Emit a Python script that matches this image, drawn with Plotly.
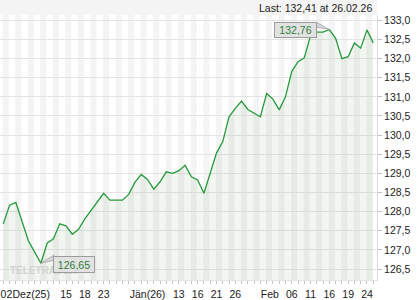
import plotly.graph_objects as go

# ---- data (one value per trading day, Dec 2025 - Feb 2026) ----
close = [127.68, 128.17, 128.24, 127.75, 127.24, 126.94, 126.65, 127.18, 127.29, 127.68,
         127.63, 127.41, 127.54, 127.81, 128.04, 128.24, 128.48, 128.30, 128.30, 128.30,
         128.45, 128.77, 128.97, 128.84, 128.59, 128.78, 129.04, 129.00, 129.07, 129.21,
         128.91, 128.83, 128.48, 129.00, 129.53, 129.83, 130.48, 130.70, 130.89, 130.67,
         130.57, 130.48, 131.09, 130.94, 130.66, 131.00, 131.66, 131.92, 132.02, 132.60,
         132.69, 132.69, 132.76, 132.53, 132.00, 132.05, 132.41, 132.27, 132.75, 132.41]
days = list(range(len(close)))

label_pos = [0.5, 4.45, 10, 13, 16, 23, 28, 31, 34, 37, 42.5, 46, 49, 52, 55, 58]
label_txt = ["02", "Dez(25)", "15", "18", "23", "Jän(26)", "13", "16", "21", "26",
             "Feb", "06", "11", "16", "19", "24"]
y_ticks = [126.5, 127.0, 127.5, 128.0, 128.5, 129.0, 129.5, 130.0, 130.5, 131.0,
           131.5, 132.0, 132.5, 133.0]
last_text = "Last: 132,41 at 26.02.26"
watermark = "TELETRADER"

W, H = 420, 300
PX = 377          # right edge of plot area in px
TOP, BOT = 15, 280
XR = [-0.527, 59.6]
YR = [126.213, 133.139]
FONT = "Liberation Sans, Arial, sans-serif"
GREEN = "#259a3c"

fig = go.Figure()
fig.add_trace(go.Scatter(
    x=days, y=close, mode="lines",
    line=dict(color=GREEN, width=1.3),
    fill="tozeroy", fillcolor="rgba(70,130,60,0.075)",
    hoverinfo="skip", showlegend=False))

shapes = []
# header band
shapes.append(dict(type="rect", xref="paper", yref="paper", x0=0, x1=PX / W,
                   y0=1 - TOP / H, y1=1, fillcolor="#f4f4f4", line=dict(width=0),
                   layer="below"))
# alternating day stripes
for k in range(0, 31):
    shapes.append(dict(type="rect", xref="x", yref="paper",
                       x0=2 * k - 0.1, x1=2 * k + 0.86,
                       y0=1 - BOT / H, y1=1 - TOP / H,
                       fillcolor="#f4f4f4", line=dict(width=0), layer="below"))

imax = max(days, key=lambda i: close[i])
imin = min(days, key=lambda i: close[i])

def fmt(v):
    return f"{v:.2f}".replace(".", ",")

# callout wedges
shapes.append(dict(type="path", xref="x", yref="y", xsizemode="pixel", ysizemode="pixel",
                   xanchor=imax, yanchor=close[imax],
                   path="M 0 0 L -13 7.3 L -13 2.5 Z",
                   fillcolor="#d6d6d6", line=dict(color="#a8a8a8", width=0.8)))
shapes.append(dict(type="path", xref="x", yref="y", xsizemode="pixel", ysizemode="pixel",
                   xanchor=imin, yanchor=close[imin],
                   path="M 0 0 L 13 8.3 L 13 3 Z",
                   fillcolor="#d6d6d6", line=dict(color="#a8a8a8", width=0.8)))

annotations = [
    dict(xref="paper", yref="paper", x=8 / W, y=1 - 270 / H, xanchor="left",
         yanchor="middle", text="<b>" + watermark + "</b>", showarrow=False,
         font=dict(family=FONT, size=10, color="#d3d3d3")),
    dict(xref="paper", yref="paper", x=374 / W, y=1 - 7.5 / H, xanchor="right",
         yanchor="middle", text=last_text, showarrow=False,
         font=dict(family=FONT, size=10.5, color="#222222")),
    dict(xref="x", yref="y", x=imax, y=close[imax], xanchor="right", yanchor="middle",
         xshift=-12, yshift=-0.5, text=fmt(close[imax]), showarrow=False,
         bgcolor="#e2e2e2", bordercolor="#9c9c9c", borderwidth=1, borderpad=2,
         width=37, height=10, font=dict(family=FONT, size=10.5, color="#2e7d3a")),
    dict(xref="x", yref="y", x=imin, y=close[imin], xanchor="left", yanchor="middle",
         xshift=12.4, yshift=-1, text=fmt(close[imin]), showarrow=False,
         bgcolor="#e2e2e2", bordercolor="#9c9c9c", borderwidth=1, borderpad=2,
         width=36, height=11, font=dict(family=FONT, size=10.5, color="#2e7d3a")),
]

fig.update_layout(
    width=W, height=H,
    margin=dict(l=0, r=0, t=0, b=0, autoexpand=False),
    paper_bgcolor="white", plot_bgcolor="white",
    separators=",.",
    shapes=shapes, annotations=annotations,
    xaxis=dict(domain=[0, PX / W], range=XR, showgrid=False, zeroline=False,
               tickmode="array", tickvals=days, showticklabels=False,
               ticks="outside", ticklen=3, tickcolor="#c4c4c4", tickwidth=1,
               showline=True, linecolor="#e2e2e2", linewidth=1, fixedrange=True,
               automargin=False),
    xaxis2=dict(overlaying="x", anchor="y", side="bottom", range=XR, matches="x",
                domain=[0, PX / W], showgrid=False, zeroline=False,
                tickmode="array", tickvals=label_pos, ticktext=label_txt,
                ticks="", showline=False, ticklabelstandoff=6, tickangle=0,
                automargin=False, ticklabeloverflow="allow",
                tickfont=dict(family=FONT, size=10.5, color="#222222")),
    yaxis=dict(domain=[1 - BOT / H, 1 - TOP / H], range=YR, side="right",
               tickmode="array", tickvals=y_ticks, tickformat=".1f",
               showgrid=True, gridcolor="#e4e4e4", gridwidth=1, zeroline=False,
               ticks="outside", ticklen=4, tickcolor="#c4c4c4",
               showline=True, linecolor="#dcdcdc", linewidth=1, automargin=False,
               tickfont=dict(family=FONT, size=10.5, color="#222222")),
)
fig.add_trace(go.Scatter(x=[XR[0]], y=[YR[0]], xaxis="x2", mode="markers",
                         marker=dict(opacity=0), hoverinfo="skip", showlegend=False))

fig.write_html("out.html", config={"displayModeBar": False})
